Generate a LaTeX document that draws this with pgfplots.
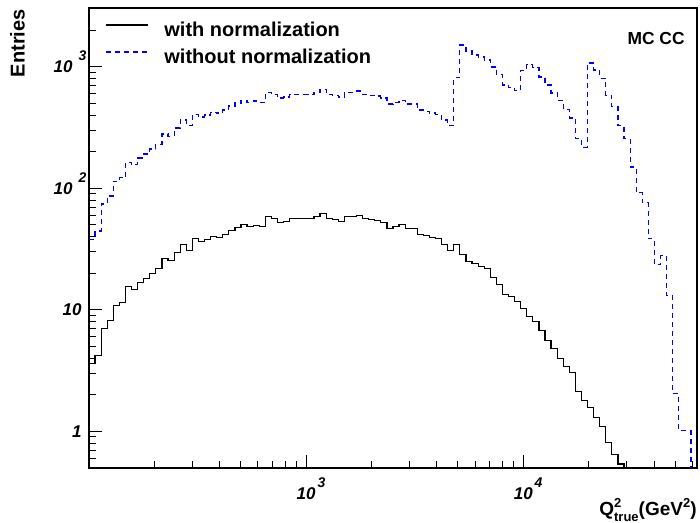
\documentclass[border=0pt]{standalone}
\usepackage{pgfplots}
\pgfplotsset{compat=1.18}
\usepackage{pgfplotstable}
\usepackage{fontspec}
\setmainfont{Liberation Sans}

\newcommand{\pw}[1]{\smash{\raisebox{6pt}{\fontsize{7}{7}\selectfont #1}}}

\pgfplotstableread{
e v
2.000 3.6
2.028 4.21
2.056 7.02
2.084 8.17
2.112 10.8
2.140 11.5
2.168 15.5
2.196 14.7
2.224 16.8
2.252 18.1
2.280 19.9
2.308 21.8
2.336 26.4
2.364 25.4
2.392 29.6
2.420 34.4
2.448 30.7
2.476 38.5
2.504 36.4
2.532 37.8
2.560 40.0
2.588 39.3
2.616 41.6
2.644 44.9
2.672 47.5
2.700 50.2
2.728 48.3
2.756 49.3
2.784 48.3
2.812 58.4
2.840 56.2
2.868 52.2
2.896 53.2
2.924 56.2
2.952 56.2
2.980 56.2
3.008 56.2
3.036 58.4
3.064 61.8
3.092 56.2
3.120 55.2
3.148 53.2
3.176 58.4
3.204 58.4
3.232 59.6
3.260 56.2
3.288 55.2
3.316 54.2
3.344 52.2
3.372 46.6
3.400 48.3
3.428 50.2
3.456 46.6
3.484 46.6
3.512 41.6
3.540 40.8
3.568 39.3
3.596 38.5
3.624 34.4
3.652 30.7
3.680 34.4
3.708 28.5
3.736 24.9
3.764 24.0
3.792 22.7
3.820 21.8
3.848 18.4
3.876 16.1
3.904 13.4
3.932 12.9
3.960 11.7
3.988 10.3
4.016 8.81
4.044 8.01
4.072 6.76
4.100 5.59
4.128 4.81
4.156 3.98
4.184 3.42
4.212 3.05
4.240 2.13
4.268 1.80
4.296 1.57
4.324 1.30
4.352 1.10
4.380 0.81
4.408 0.65
4.436 0.54
4.464 0.3
}\normtab

\pgfplotstableread{
e v
2.000 38.2
2.028 44.6
2.056 74.4
2.084 86.6
2.112 114
2.140 122
2.168 164
2.196 156
2.224 178
2.252 192
2.280 211
2.308 231
2.336 280
2.364 269
2.392 314
2.420 365
2.448 330
2.476 408
2.504 386
2.532 401
2.560 424
2.588 417
2.616 441
2.644 476
2.672 504
2.700 532
2.728 512
2.756 523
2.784 512
2.812 619
2.840 596
2.868 553
2.896 564
2.924 596
2.952 596
2.980 596
3.008 596
3.036 619
3.064 655
3.092 596
3.120 585
3.148 564
3.176 619
3.204 619
3.232 632
3.260 596
3.288 585
3.316 575
3.344 553
3.372 494
3.400 512
3.428 532
3.456 494
3.484 494
3.512 441
3.540 432
3.568 417
3.596 408
3.624 365
3.652 330
3.680 811
3.708 1514
3.736 1351
3.764 1253
3.792 1206
3.820 1140
3.848 998
3.876 866
3.904 710
3.932 677
3.960 640
3.988 934
4.016 1047
4.044 988
4.072 826
4.100 710
4.128 610
4.156 525
4.184 443
4.212 380
4.240 258
4.268 218
4.296 1076
4.324 943
4.352 803
4.380 582
4.408 469
4.436 327
4.464 256
4.492 150
4.520 92
4.548 76.2
4.576 38.5
4.604 23.6
4.632 27.9
4.660 13.1
4.688 2.05
4.716 1.01
4.744 1.01
4.772 0.3
}\rawtab

\begin{document}
\begin{tikzpicture}[x=1pt,y=1pt]
\useasboundingbox (-44.5,-27.5) rectangle (305.5,234);
\begin{axis}[
  at={(0,0)}, anchor=south west,
  scale only axis, width=304pt, height=230pt,
  xmin=2, xmax=4.8,
  ymode=log, ymin=0.5, ymax=3050,
  axis line style={line width=0.8pt},
  tick style={line width=0.5pt, black},
  major tick length=6.5pt, minor tick length=3.5pt,
  tick align=inside, xtick pos=left, ytick pos=left,
  xtick={3,4},
  xticklabels={10\rlap{\hspace{1pt}\pw{3}}, 10\rlap{\hspace{1pt}\pw{4}}},
  minor xtick={2.30103,2.47712,2.60206,2.69897,2.77815,2.84510,2.90309,2.95424,
               3.30103,3.47712,3.60206,3.69897,3.77815,3.84510,3.90309,3.95424,
               4.30103,4.47712,4.60206,4.69897,4.77815},
  ytick={1,10,100,1000},
  yticklabels={1,10,10\makebox[4.5pt][l]{\hspace{3pt}\pw{2}},10\makebox[4.5pt][l]{\hspace{3pt}\pw{3}}},
  minor ytick={0.6,0.7,0.8,0.9,2,3,4,5,6,7,8,9,20,30,40,50,60,70,80,90,200,300,400,500,600,700,800,900,2000,3000},
  xticklabel style={font=\bfseries\itshape\fontsize{8.5}{10}\selectfont, anchor=north, inner sep=0pt, yshift=-9.5pt},
  yticklabel style={font=\bfseries\itshape\fontsize{8.5}{10}\selectfont, anchor=east, inner sep=0pt, xshift=-3.5pt},
  legend style={at={(axis description cs:0.026,0.978)}, anchor=north west, draw=none, fill=none, inner sep=0pt,
    font=\bfseries\fontsize{10}{12}\selectfont,
    nodes={inner sep=0pt, text height=9pt, text depth=4.5pt},
    /tikz/every odd column/.append style={column sep=8pt}},
  legend cell align=left,
  legend image code/.code={\draw[#1] (0pt,3.5pt) -- (21pt,3.5pt);},
]
\addplot[const plot, black, line width=0.6pt] table[x=e,y=v]{\normtab};
\addlegendentry{with normalization}
\addplot[const plot, blue, line width=0.6pt, dash pattern=on 2.5pt off 2pt] table[x=e,y=v]{\rawtab};
\addlegendentry{without normalization}
\end{axis}
\node[anchor=north east, inner sep=0pt, font=\bfseries\fontsize{8.7}{10}\selectfont] at (298,218) {MC CC};
\node[anchor=north east, inner sep=0pt, font=\bfseries\fontsize{9.5}{10}\selectfont] at (304,-16.8) {Q\rlap{\smash{\raisebox{4.2pt}{\fontsize{6.5}{7}\selectfont 2}}}\smash{\raisebox{-2.8pt}{\fontsize{6.5}{7}\selectfont true}}(GeV\smash{\raisebox{4pt}{\fontsize{6.5}{7}\selectfont 2}})};
\node[rotate=90, anchor=east, inner sep=0pt, font=\bfseries\fontsize{10}{12}\selectfont] at (-35.75,229.5) {Entries};
\end{tikzpicture}
\end{document}
